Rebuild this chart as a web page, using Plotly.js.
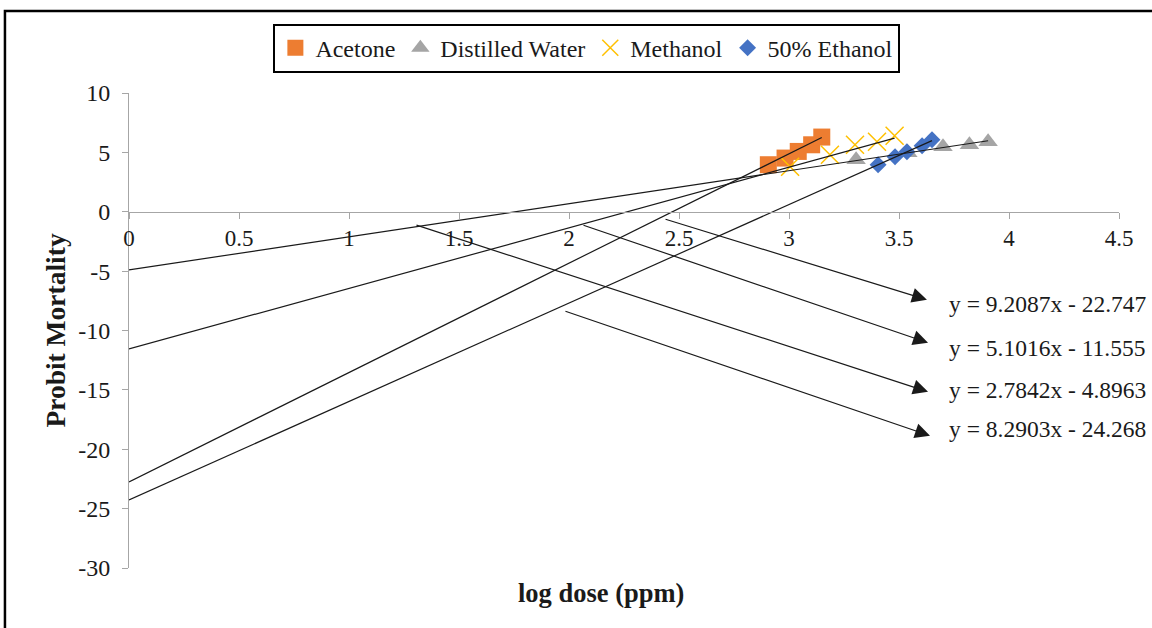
<!DOCTYPE html>
<html>
<head>
<meta charset="utf-8">
<script src="https://cdn.plot.ly/plotly-3.0.1.min.js"></script>
<style>html,body{margin:0;padding:0;background:#fff;}#chart{width:1152px;height:628px;}</style>
</head>
<body>
<div id="chart"></div>
<script>
// ---- data ----
const seriesNames = ['Acetone', 'Distilled Water', 'Methanol', '50% Ethanol'];
const xAcetone = [2.906, 2.982, 3.042, 3.103, 3.149];
const yAcetone = [3.96, 4.52, 5.08, 5.64, 6.29];
const xWater = [3.305, 3.54, 3.70, 3.82, 3.905];
const yWater = [4.38, 4.97, 5.47, 5.64, 5.89];
const xMethanol = [3.005, 3.186, 3.30, 3.40, 3.48];
const yMethanol = [3.79, 4.80, 5.64, 5.89, 6.40];
const xEthanol = [3.405, 3.482, 3.536, 3.605, 3.65];
const yEthanol = [3.96, 4.63, 5.05, 5.56, 6.06];
// trendline coefficients (y = slope*x + intercept), order as seriesNames
const slopes = [9.2087, 2.7842, 5.1016, 8.2903];
const intercepts = [-22.747, -4.8963, -11.555, -24.268];
const equationLabels = ['y = 9.2087x - 22.747', 'y = 5.1016x - 11.555', 'y = 2.7842x - 4.8963', 'y = 8.2903x - 24.268'];
const yTickVals = [10, 5, 0, -5, -10, -15, -20, -25, -30];
const yTickText = ['10', '5', '0', '-5', '-10', '-15', '-20', '-25', '-30'];
const xTickVals = [0, 0.5, 1, 1.5, 2, 2.5, 3, 3.5, 4, 4.5];
const xTickText = ['0', '0.5', '1', '1.5', '2', '2.5', '3', '3.5', '4', '4.5'];

const FONT = 'Liberation Serif, Times New Roman, serif';
const TXT = '#1a1a1a';

const xs = [xAcetone, xWater, xMethanol, xEthanol];
const ys = [yAcetone, yWater, yMethanol, yEthanol];
const markers = [
  {symbol: 'square', size: 17, color: '#ED7D31'},
  {symbol: 'triangle-up', size: 17, color: '#A5A5A5'},
  {symbol: 'x-thin-open', size: 18, color: '#FFC000', line: {color: '#FFC000', width: 1.5}},
  {symbol: 'diamond', size: 13, color: '#4472C4'}
];

const traces = [];
for (let i = 0; i < 4; i++) {
  traces.push({
    type: 'scatter', mode: 'markers', name: seriesNames[i],
    x: xs[i], y: ys[i], marker: markers[i], showlegend: true, cliponaxis: false
  });
}
for (let i = 0; i < 4; i++) {
  const xmax = Math.max.apply(null, xs[i]);
  traces.push({
    type: 'scatter', mode: 'lines', showlegend: false, hoverinfo: 'skip',
    x: [0, xmax], y: [intercepts[i], slopes[i] * xmax + intercepts[i]],
    line: {color: '#1a1a1a', width: 1.2}
  });
}

// arrows (start -> tip) in data units, and equation text positions
const arrowStartX = [2.432, 2.059, 1.30, 1.977];
const arrowStartY = [-0.59, -1.09, -1.09, -8.34];
const arrowTipX = [3.627, 3.632, 3.632, 3.641];
const arrowTipY = [-7.41, -11.03, -15.16, -18.86];
const eqX = 3.72;
const eqY = [-7.75, -11.45, -15.0, -18.3];

const annotations = [];
for (let i = 0; i < 4; i++) {
  annotations.push({
    x: arrowTipX[i], y: arrowTipY[i], xref: 'x', yref: 'y',
    ax: arrowStartX[i], ay: arrowStartY[i], axref: 'x', ayref: 'y',
    text: '', showarrow: true, arrowhead: 2, arrowsize: 2.5, arrowwidth: 1.2, arrowcolor: '#1a1a1a'
  });
  annotations.push({
    x: eqX, y: eqY[i], xref: 'x', yref: 'y', xanchor: 'left', yanchor: 'middle',
    text: equationLabels[i], showarrow: false, font: {family: FONT, size: 23.5, color: TXT}
  });
}
annotations.push({
  x: 0.477, y: -0.052, xref: 'paper', yref: 'paper', xanchor: 'center', yanchor: 'middle',
  text: '<b>log dose (ppm)</b>', showarrow: false, font: {family: FONT, size: 26.5, color: TXT}
});

const layout = {
  width: 1152, height: 628,
  margin: {l: 129, r: 33, t: 93, b: 60},
  paper_bgcolor: '#fff', plot_bgcolor: '#fff',
  font: {family: FONT, size: 24, color: TXT},
  showlegend: true,
  legend: {
    orientation: 'h', x: 0.4625, xanchor: 'center', y: 1.146, yanchor: 'top',
    bordercolor: '#000', borderwidth: 2, bgcolor: '#fff',
    font: {family: FONT, size: 24, color: TXT}
  },
  xaxis: {
    range: [0, 4.5], tickvals: xTickVals, ticktext: xTickText,
    anchor: 'free', position: 0.75,
    showline: true, linecolor: '#a6a6a6', linewidth: 1,
    ticks: 'outside', ticklen: 6, tickcolor: '#a6a6a6',
    showgrid: false, zeroline: false,
    tickfont: {family: FONT, size: 23, color: TXT}
  },
  yaxis: {
    range: [-30, 10], tickvals: yTickVals, ticktext: yTickText,
    showline: true, linecolor: '#a6a6a6', linewidth: 1,
    ticks: 'outside', ticklen: 6, tickcolor: '#a6a6a6', ticklabelstandoff: 7,
    showgrid: false, zeroline: false,
    tickfont: {family: FONT, size: 24, color: TXT},
    title: {text: '<b>Probit Mortality</b>', font: {family: FONT, size: 27.5, color: TXT}, standoff: 4}
  },
  annotations: annotations,
  shapes: [{
    type: 'rect', xref: 'paper', yref: 'paper',
    x0: -0.1253, x1: 1.09, y0: -0.2, y1: 1.1726,
    line: {color: '#000', width: 2.5}, fillcolor: 'rgba(0,0,0,0)', layer: 'below'
  }]
};

Plotly.newPlot('chart', traces, layout, {staticPlot: true, displayModeBar: false});
</script>
</body>
</html>
